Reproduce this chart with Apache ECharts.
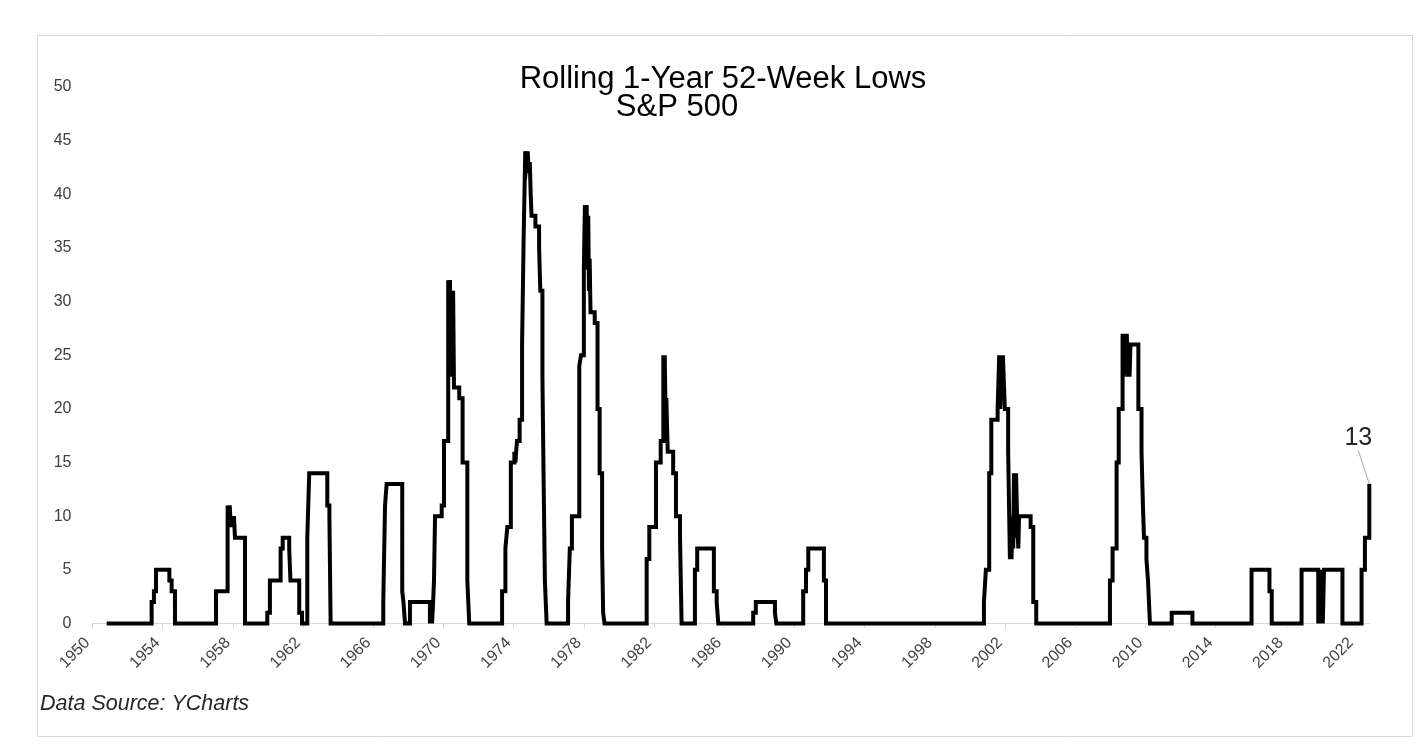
<!DOCTYPE html>
<html><head><meta charset="utf-8">
<script src="https://cdn.jsdelivr.net/npm/echarts@6/dist/echarts.min.js"></script>
<style>html,body{margin:0;padding:0;background:#fff}#chart{width:1424px;height:756px}</style>
</head><body><div id="chart"></div>
<script>
// Rolling 1-year count of S&P 500 52-week lows (value holds from each change date until the next)
const changeYears = [
  1950.81, 1953.37, 1953.50, 1953.62, 1954.38, 1954.51, 1954.70,
  1957.04, 1957.70, 1957.76, 1957.82, 1957.88, 1957.94, 1958.00, 1958.06, 1958.12, 1958.69,
  1959.96, 1960.11, 1960.72, 1960.84, 1961.21, 1961.28, 1961.78, 1961.94,
  1962.24, 1962.35, 1963.38, 1963.50, 1963.57,
  1966.57, 1966.67, 1966.76, 1967.65, 1967.72, 1967.81, 1968.09,
  1969.23, 1969.29, 1969.35, 1969.41, 1969.46, 1969.52, 1969.90, 1970.03,
  1970.27, 1970.33, 1970.37, 1970.42, 1970.46, 1970.51, 1970.55, 1970.60, 1970.90, 1971.09, 1971.36, 1971.47,
  1973.34, 1973.53, 1973.64, 1973.84, 1974.04, 1974.10, 1974.14, 1974.19, 1974.34, 1974.48, 1974.57,
  1974.66, 1974.74, 1974.80, 1974.86, 1974.92, 1974.97, 1975.02, 1975.24, 1975.45, 1975.52, 1975.64, 1975.71, 1975.78, 1975.88,
  1977.10, 1977.20, 1977.32, 1977.74, 1977.84, 1978.00,
  1978.06, 1978.12, 1978.16, 1978.21, 1978.25, 1978.29, 1978.33, 1978.38, 1978.62, 1978.78, 1978.90, 1979.04, 1979.10, 1979.18,
  1981.58, 1981.73, 1982.11, 1982.38, 1982.53, 1982.57, 1982.61, 1982.66, 1982.70, 1982.78, 1983.09, 1983.25, 1983.48, 1983.57,
  1984.33, 1984.46, 1985.41, 1985.57, 1985.66,
  1987.65, 1987.80, 1988.89, 1988.97,
  1990.50, 1990.66, 1990.79, 1991.68, 1991.80,
  2000.80, 2000.91, 2001.10, 2001.22, 2001.58, 2001.67, 2001.73, 2001.78, 2001.84, 2001.88, 2001.99, 2002.18,
  2002.24, 2002.28, 2002.33, 2002.37, 2002.42, 2002.47, 2002.51, 2002.58, 2002.63, 2002.70, 2002.76, 2002.80, 2003.46, 2003.61, 2003.78,
  2007.98, 2008.13, 2008.36, 2008.48, 2008.70, 2008.76, 2008.82, 2008.88, 2008.94, 2009.00, 2009.06, 2009.10, 2009.15,
  2009.60, 2009.78, 2009.86, 2009.92, 2010.06, 2010.15, 2010.26,
  2011.50, 2012.68,
  2016.05, 2017.07, 2017.20,
  2018.90, 2019.85, 2019.92, 2019.98, 2020.05, 2020.11, 2020.18, 2021.23,
  2022.32, 2022.51, 2022.76
];
const lowCounts = [
  0, 2, 3, 5, 4, 3, 0,
  3, 11, 9, 11, 9, 10, 9, 10, 8, 0,
  1, 4, 7, 8, 7, 4, 1, 0,
  8, 14, 11, 10, 0,
  2, 11, 13, 3, 2, 0, 2,
  0, 2, 0, 2, 4, 10, 11, 17,
  32, 23, 32, 24, 31, 23, 31, 22, 21, 15, 4, 0,
  3, 7, 9, 15, 16, 15, 16, 17, 19, 26, 36,
  44, 43, 44, 42, 43, 40, 38, 37, 35, 31, 23, 13, 4, 0,
  2, 7, 10, 24, 25, 33,
  39, 34, 39, 33, 38, 31, 34, 29, 28, 20, 14, 7, 1, 0,
  6, 9, 15, 17, 25, 17, 25, 19, 21, 16, 14, 10, 8, 0,
  5, 7, 3, 2, 0,
  1, 2, 1, 0,
  3, 5, 7, 4, 0,
  2, 5, 14, 19, 20, 25, 20, 25, 21, 25, 20, 16,
  10, 6, 10, 6, 9, 7, 14, 8, 14, 9, 7, 10, 9, 2, 0,
  4, 7, 15, 20, 27, 23, 27, 24, 27, 23, 25, 23, 26,
  20, 16, 11, 8, 6, 4, 0,
  1, 0,
  5, 3, 0,
  5, 0, 5, 0, 5, 0, 5, 0,
  5, 8, 13
];
const xTickYears = [1950, 1954, 1958, 1962, 1966, 1970, 1974, 1978, 1982, 1986, 1990, 1994, 1998, 2002, 2006, 2010, 2014, 2018, 2022];
const yTicks = [0, 5, 10, 15, 20, 25, 30, 35, 40, 45, 50];
const titleLines = ['Rolling 1-Year 52-Week Lows', 'S&P 500'];
const sourceNote = 'Data Source: YCharts';

const FONT = '"Liberation Sans", Arial, sans-serif';
const last = changeYears.length - 1;
const seriesData = changeYears.map((yr, i) => {
  if (i === last) {
    return {
      value: [yr, lowCounts[i]],
      symbol: 'circle', symbolSize: 1,
      itemStyle: { color: '#000' },
      label: { show: true, formatter: String(lowCounts[i]) }
    };
  }
  return [yr, lowCounts[i]];
});

const chart = echarts.init(document.getElementById('chart'), null, { renderer: 'canvas' });
chart.setOption({
  animation: false,
  backgroundColor: '#fff',
  grid: { left: 92.5, right: 54, top: 87, bottom: 132.5, containLabel: false },
  xAxis: {
    type: 'value',
    min: xTickYears[0],
    max: 2022.8,
    interval: 4,
    axisLine: { show: true, lineStyle: { color: '#d9d9d9', width: 1 } },
    axisTick: { show: true, length: 5, lineStyle: { color: '#d9d9d9' }, customValues: xTickYears },
    axisLabel: {
      rotate: 45, margin: 12, padding: [0, 7, 0, 0], fontSize: 16, color: '#404040', fontFamily: FONT,
      customValues: xTickYears,
      formatter: v => (Number.isInteger(v) ? String(v) : '')
    },
    splitLine: { show: false }
  },
  yAxis: {
    type: 'value',
    min: yTicks[0],
    max: yTicks[yTicks.length - 1],
    interval: 5,
    axisLine: { show: false },
    axisTick: { show: false },
    splitLine: { show: false },
    axisLabel: { margin: 21, fontSize: 16, color: '#404040', fontFamily: FONT }
  },
  series: [{
    type: 'line',
    step: 'end',
    symbol: 'none',
    showSymbol: true,
    clip: false,
    data: seriesData,
    lineStyle: { color: '#000', width: 4, join: 'miter', cap: 'butt' },
    label: {
      show: false, position: 'top', distance: 5,
      fontSize: 25, color: '#262626', fontFamily: FONT
    },
    labelLayout: { dx: -11, dy: -28 },
    labelLine: { show: true, lineStyle: { color: '#a6a6a6', width: 1 } }
  }],
  graphic: [
    {
      type: 'rect', silent: true, z: -1,
      shape: { x: 37.5, y: 35.5, width: 1375, height: 701 },
      style: { fill: 'none', stroke: '#d9d9d9', lineWidth: 1 }
    },
    {
      type: 'text', silent: true,
      x: 723, y: 79,
      style: {
        text: titleLines[0], font: '31px ' + FONT, fill: '#000',
        textAlign: 'center', textVerticalAlign: 'middle'
      }
    },
    {
      type: 'text', silent: true,
      x: 677, y: 107,
      style: {
        text: titleLines[1], font: '31px ' + FONT, fill: '#000',
        textAlign: 'center', textVerticalAlign: 'middle'
      }
    },
    {
      type: 'text', silent: true,
      x: 40, y: 704,
      style: {
        text: sourceNote, font: 'italic 21.5px ' + FONT, fill: '#262626',
        textAlign: 'left', textVerticalAlign: 'middle'
      }
    }
  ]
});
</script>
</body></html>
